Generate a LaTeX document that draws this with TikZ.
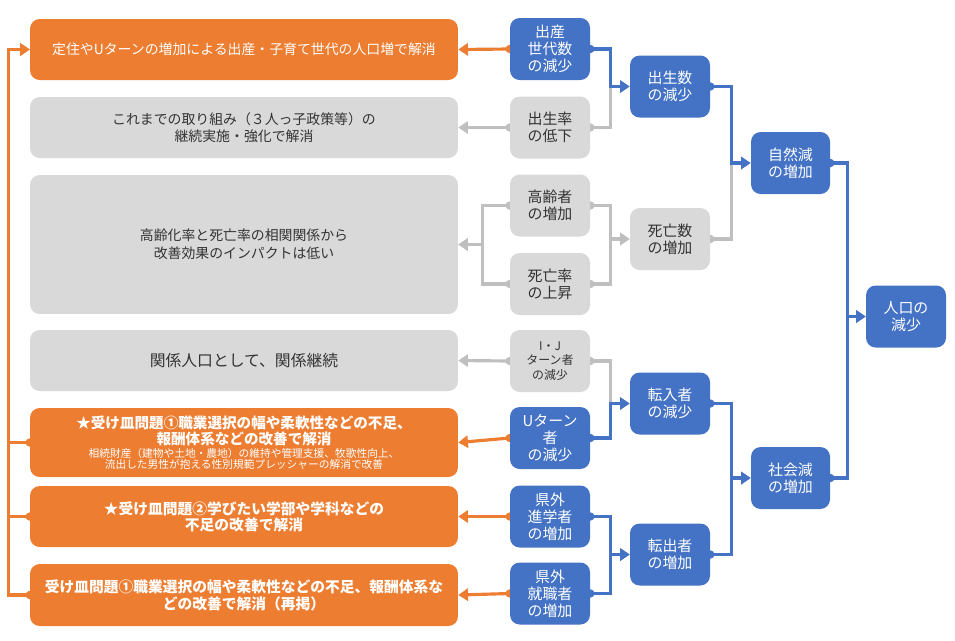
\documentclass[tikz,border=0pt]{standalone}
\usepackage{fontspec}
\setmainfont{Noto Sans CJK JP}
\usetikzlibrary{arrows.meta,backgrounds}
\definecolor{dorange}{RGB}{237,125,49}
\definecolor{dblue}{RGB}{68,114,196}
\definecolor{boxgray}{RGB}{217,217,217}
\definecolor{linegray}{RGB}{191,191,191}
\definecolor{textgray}{RGB}{51,51,51}

\begin{document}
\begin{tikzpicture}[x=0.02cm,y=-0.02cm,
  cell/.style={rounded corners=5.5pt,inner sep=0pt,align=center},
  wide/.style={cell,minimum width=8.56cm,minimum height=1.22cm,font=\fontsize{7.9}{10}\selectfont},
  narrow/.style={cell,minimum width=1.6cm,minimum height=1.24cm,font=\fontsize{8.5}{9.7}\selectfont},
  fillorange/.style={fill=dorange,text=white},
  fillblue/.style={fill=dblue,text=white},
  fillgray/.style={fill=boxgray,text=textgray},
  link/.style={line width=1.8pt,{Circle[length=4.6pt]}-{Triangle[length=5.5pt,width=7pt]},shorten <=-2.3pt},
  orangelink/.style={link,draw=dorange},
  bluelink/.style={link,draw=dblue},
  graylink/.style={link,draw=linegray}]
\useasboundingbox (0,0) rectangle (955,640);

% left column: measures
\node[wide,fillorange] (l1) at (244,49.5) {定住やUターンの増加による出産・子育て世代の人口増で解消};
\node[wide,fillgray] (l2) at (244,127.5) {これまでの取り組み（３人っ子政策等）の\\継続実施・強化で解消};
\node[wide,fillgray,minimum height=2.78cm] (l3) at (244,244.5) {高齢化率と死亡率の相関関係から\\改善効果のインパクトは低い};
\node[wide,fillgray,font=\fontsize{9}{11}\selectfont] (l4) at (244,360.5) {関係人口として、関係継続};
\node[wide,fillorange,minimum height=1.38cm,font=\fontsize{6.1}{6.5}\selectfont] (l5) at (244,442.5)
  {{\bfseries\fontsize{8.3}{8.8}\selectfont ★受け皿問題①職業選択の幅や柔軟性などの不足、}\\[0.5pt]
   {\bfseries\fontsize{8.3}{8.8}\selectfont 報酬体系などの改善で解消}\\[0.5pt]
   相続財産（建物や土地・農地）の維持や管理支援、牧歌性向上、\\
   流出した男性が抱える性別規範プレッシャーの解消で改善};
\node[wide,fillorange,font=\bfseries\fontsize{8.4}{9.2}\selectfont] (l6) at (244,516.5) {★受け皿問題②学びたい学部や学科などの\\不足の改善で解消};
\node[wide,fillorange,minimum height=1.24cm,font=\bfseries\fontsize{8.4}{9.6}\selectfont] (l7) at (244,595) {受け皿問題①職業選択の幅や柔軟性などの不足、報酬体系な\\どの改善で解消（再掲）};

% middle column: factors
\node[narrow,fillblue] (m1) at (550,49) {出産\\世代数\\の減少};
\node[narrow,fillgray] (m2) at (550,127.5) {出生率\\の低下};
\node[narrow,fillgray] (m3) at (550,205.5) {高齢者\\の増加};
\node[narrow,fillgray] (m4) at (550,284) {死亡率\\の上昇};
\node[narrow,fillgray,font=\fontsize{6.8}{8.4}\selectfont] (m5) at (550,361) {I・J\\ターン者\\の減少};
\node[narrow,fillblue] (m6) at (550,438) {Uターン\\者\\の減少};
\node[narrow,fillblue] (m7) at (550,516.5) {県外\\進学者\\の増加};
\node[narrow,fillblue] (m8) at (550,593.5) {県外\\就職者\\の増加};

\node[narrow,fillblue] (c1) at (670,86.5) {出生数\\の減少};
\node[narrow,fillgray] (c2) at (670,239) {死亡数\\の増加};
\node[narrow,fillblue] (c3) at (670,403.5) {転入者\\の減少};
\node[narrow,fillblue] (c4) at (670,554.5) {転出者\\の増加};

\node[narrow,fillblue,minimum width=1.58cm] (d1) at (790.5,163) {自然減\\の増加};
\node[narrow,fillblue,minimum width=1.58cm] (d2) at (790.5,478) {社会減\\の増加};

\node[narrow,fillblue] (pop) at (906,316.5) {人口の\\減少};

\begin{scope}[on background layer]
% gray connectors first
\draw[graylink] (m2.east) -- ++(20,0) |- (c1.west);
\draw[graylink] (m3.east) -- ++(20,0) |- (c2.west);
\draw[graylink] (m4.east) -- ++(20,0) |- (c2.west);
\draw[graylink] (c2.east) -- ++(21,0) |- (d1.west);
\draw[graylink] (m5.east) -- ++(20,0) |- (c3.west);
\draw[graylink] (m2.west) -- (l2.east);
\draw[graylink] (m3.west) -- ++(-27,0) |- (l3.east);
\draw[graylink] (m4.west) -- ++(-27,0) |- (l3.east);
\draw[graylink] (m5.west) -- (l4.east);
% blue connectors
\draw[bluelink] (m1.east) -- ++(20,0) |- (c1.west);
\draw[bluelink] (c1.east) -- ++(21,0) |- (d1.west);
\draw[bluelink] (m6.east) -- ++(20,0) |- (c3.west);
\draw[bluelink] (m7.east) -- ++(20,0) |- (c4.west);
\draw[bluelink] (m8.east) -- ++(20,0) |- (c4.west);
\draw[bluelink] (c3.east) -- ++(21,0) |- (d2.west);
\draw[bluelink] (c4.east) -- ++(21,0) |- (d2.west);
\draw[bluelink] (d1.east) -- ++(17,0) |- (pop.west);
\draw[bluelink] (d2.east) -- ++(17,0) |- (pop.west);
% orange connectors
\draw[orangelink] (m1.west) -- (l1.east);
\draw[orangelink] (m6.west) -- (l5.east);
\draw[orangelink] (m7.west) -- (l6.east);
\draw[orangelink] (m8.west) -- (l7.east);
\draw[orangelink] (l5.west) -- ++(-21,0) |- (l1.west);
\draw[orangelink] (l6.west) -- ++(-21,0) |- (l1.west);
\draw[orangelink] (l7.west) -- ++(-21,0) |- (l1.west);
\end{scope}
\end{tikzpicture}
\end{document}
